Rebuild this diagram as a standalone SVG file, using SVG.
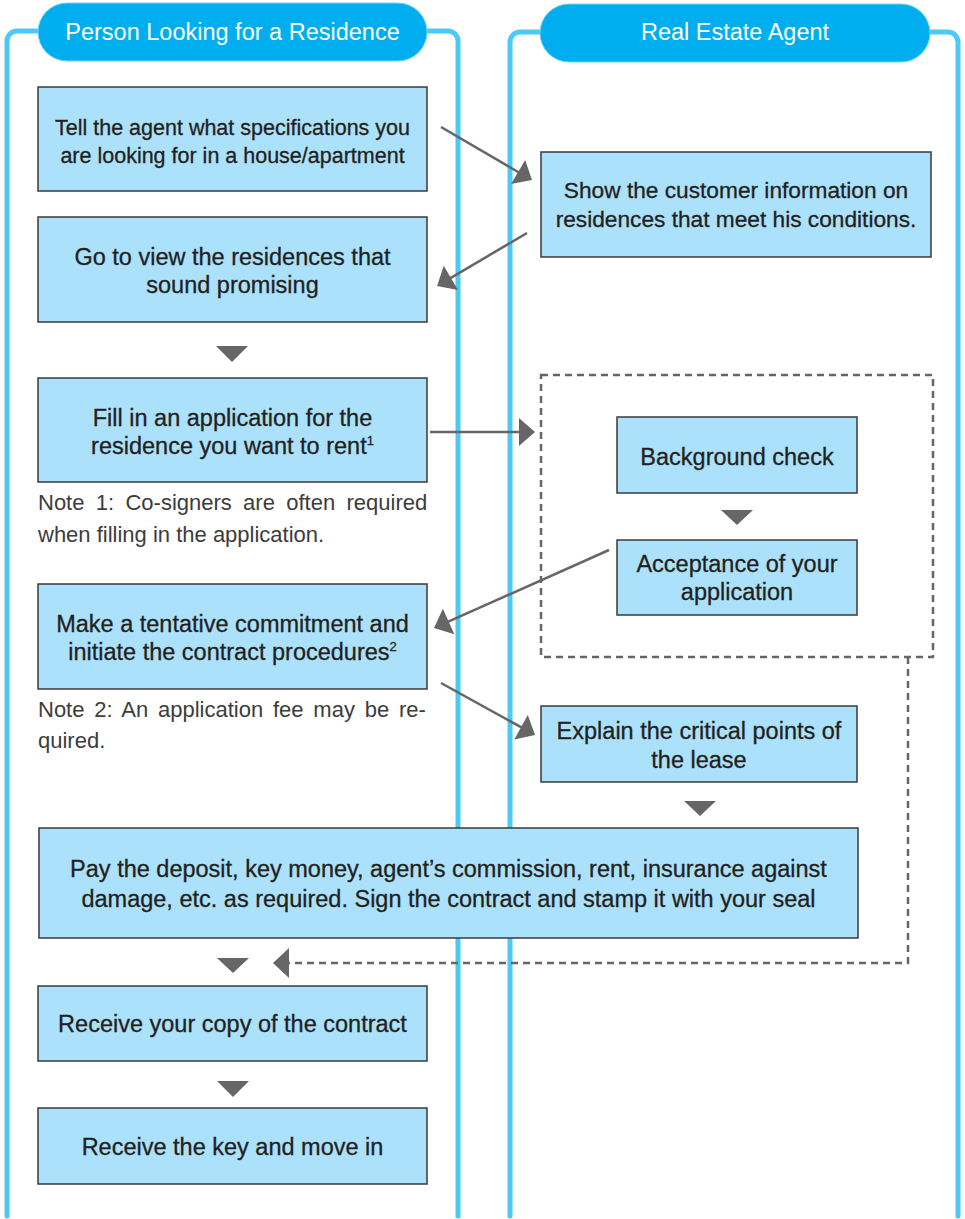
<svg xmlns="http://www.w3.org/2000/svg" width="965" height="1219" viewBox="0 0 965 1219">
<style>
.lane{fill:none;stroke:#4cc9f4;stroke-width:5;stroke-linecap:round}
.pill{fill:#00aeef;stroke:#74d4f6;stroke-width:1}
.hdr{font-family:"Liberation Sans",Arial,sans-serif;font-size:23.5px;fill:#fff;text-anchor:middle}
.box{fill:#abe1fa;stroke:#3a3a3a;stroke-width:1.5}
.t{font-family:"Liberation Sans",Arial,sans-serif;font-size:23.5px;fill:#231f20;stroke:#231f20;stroke-width:0.3;text-anchor:middle}
.note{font-family:"Liberation Sans",Arial,sans-serif;font-size:22px;fill:#3c3c3c}
.conn{fill:none;stroke:#666;stroke-width:2.5}
.dash{fill:none;stroke:#666;stroke-width:2.5;stroke-dasharray:7 5}
.tri{fill:#666}
</style>
<defs>
<marker id="ah" markerUnits="userSpaceOnUse" markerWidth="17" markerHeight="30" refX="1" refY="14" orient="auto" overflow="visible">
<path d="M0,0 L16,14 L0,28 z" fill="#666"/>
</marker>
</defs>

<g id="lanes">
<path class="lane" d="M38,31 H17 A10,10 0 0 0 7,41 V1216"/>
<path class="lane" d="M427,31 H448 A10,10 0 0 1 458,41 V1216"/>
<path class="lane" d="M540,32 H520 A10,10 0 0 0 510,42 V1216"/>
<path class="lane" d="M930,32 H948 A10,10 0 0 1 958,42 V1216"/>
</g>

<g id="lane-header-person">
<rect class="pill" x="38" y="3" width="389" height="58" rx="29"/>
<text class="hdr" x="232.5" y="40">Person Looking for a Residence</text>
</g>
<g id="lane-header-agent">
<rect class="pill" x="540" y="4" width="390" height="58" rx="29"/>
<text class="hdr" x="735" y="40">Real Estate Agent</text>
</g>

<g id="group-screening">
<rect class="dash" x="541" y="375" width="392" height="282"/>
</g>

<g id="connectors">
<line class="conn" x1="441" y1="127" x2="519" y2="172.5" marker-end="url(#ah)"/>
<line class="conn" x1="527" y1="233" x2="450" y2="278.4" marker-end="url(#ah)"/>
<line class="conn" x1="430" y1="432" x2="520" y2="432" marker-end="url(#ah)"/>
<line class="conn" x1="609" y1="550" x2="447.7" y2="621.9" marker-end="url(#ah)"/>
<line class="conn" x1="441" y1="683" x2="521.9" y2="727.7" marker-end="url(#ah)"/>
<path class="dash" d="M908,657 V963 H289"/>
<path class="tri" d="M273,963 L289,948 L289,978 z"/>
<path class="tri" d="M216,346 H248 L232,362 z"/>
<path class="tri" d="M721,510 H753 L737,525 z"/>
<path class="tri" d="M684,801 H716 L700,816 z"/>
<path class="tri" d="M217,958 H249 L233,973 z"/>
<path class="tri" d="M217,1081 H249 L233,1097 z"/>
</g>

<g id="node-tell">
<rect class="box" x="38" y="87" width="389" height="104"/>
<text class="t" x="232.5" y="135" style="font-size:21.5px">Tell the agent what specifications you</text>
<text class="t" x="232.5" y="163" style="font-size:21.5px">are looking for in a house/apartment</text>
</g>

<g id="node-show">
<rect class="box" x="541" y="152" width="390" height="105"/>
<text class="t" x="736" y="198" style="font-size:22.7px">Show the customer information on</text>
<text class="t" x="736" y="227" style="font-size:22.7px">residences that meet his conditions.</text>
</g>

<g id="node-view">
<rect class="box" x="38" y="217" width="389" height="105"/>
<text class="t" x="232.5" y="265">Go to view the residences that</text>
<text class="t" x="232.5" y="293">sound promising</text>
</g>

<g id="node-apply">
<rect class="box" x="38" y="378" width="389" height="104"/>
<text class="t" x="232.5" y="426">Fill in an application for the</text>
<text class="t" x="232.5" y="454">residence you want to rent<tspan font-size="13" dy="-9">1</tspan></text>
</g>

<g id="note-1">
<text class="note" x="38" y="510" word-spacing="5.2">Note 1: Co-signers are often required</text>
<text class="note" x="38" y="542">when filling in the application.</text>
</g>

<g id="node-background">
<rect class="box" x="617" y="417" width="240" height="76"/>
<text class="t" x="737" y="465">Background check</text>
</g>

<g id="node-acceptance">
<rect class="box" x="617" y="540" width="240" height="75"/>
<text class="t" x="737" y="572">Acceptance of your</text>
<text class="t" x="737" y="600">application</text>
</g>

<g id="node-commit">
<rect class="box" x="38" y="584" width="389" height="105"/>
<text class="t" x="232.5" y="632">Make a tentative commitment and</text>
<text class="t" x="232.5" y="660">initiate the contract procedures<tspan font-size="13" dy="-9">2</tspan></text>
</g>

<g id="note-2">
<text class="note" x="38" y="717" word-spacing="3.7">Note 2: An application fee may be re-</text>
<text class="note" x="38" y="748">quired.</text>
</g>

<g id="node-explain">
<rect class="box" x="541" y="706" width="316" height="76"/>
<text class="t" x="699" y="739">Explain the critical points of</text>
<text class="t" x="699" y="768">the lease</text>
</g>

<g id="node-pay">
<rect class="box" x="39" y="828" width="819" height="110"/>
<text class="t" x="448.5" y="877">Pay the deposit, key money, agent’s commission, rent, insurance against</text>
<text class="t" x="448.5" y="907">damage, etc. as required. Sign the contract and stamp it with your seal</text>
</g>

<g id="node-copy">
<rect class="box" x="38" y="986" width="389" height="75"/>
<text class="t" x="232.5" y="1032">Receive your copy of the contract</text>
</g>

<g id="node-key">
<rect class="box" x="38" y="1108" width="389" height="76"/>
<text class="t" x="232.5" y="1155">Receive the key and move in</text>
</g>
</svg>
